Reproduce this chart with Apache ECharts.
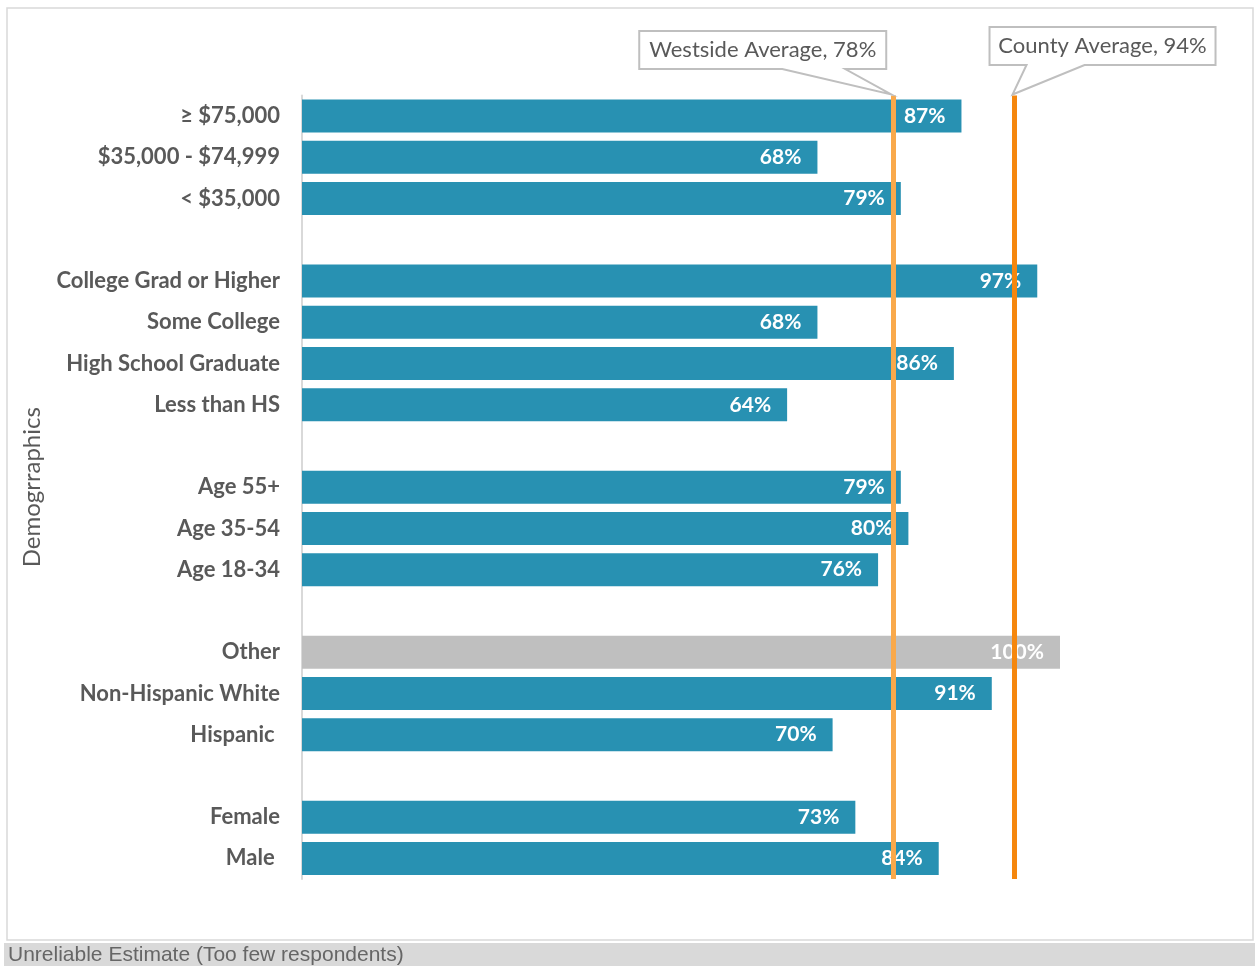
<!DOCTYPE html>
<html>
<head>
<meta charset="utf-8">
<script src="https://cdn.jsdelivr.net/npm/echarts@6/dist/echarts.min.js"></script>
<style>
  html, body { margin: 0; padding: 0; background: #ffffff; }
  #chart { width: 1255px; height: 966px; }
</style>
</head>
<body>
<div id="chart"></div>
<script>
// Categories top to bottom; empty strings are spacer rows between groups
const categories = [
  '≥ $75,000', '$35,000 - $74,999', '< $35,000', '',
  'College Grad or Higher', 'Some College', 'High School Graduate', 'Less than HS', '',
  'Age 55+', 'Age 35-54', 'Age 18-34', '',
  'Other', 'Non-Hispanic White', 'Hispanic ', '',
  'Female', 'Male '
];
// Percent values (null for spacer rows)
const values = [
  87, 68, 79, null,
  97, 68, 86, 64, null,
  79, 80, 76, null,
  100, 91, 70, null,
  73, 84
];
// Rows flagged as unreliable estimates
const unreliable = ['Other'];

const westsideAvg = 78;
const countyAvg = 94;
const axisTitle = 'Demogrraphics';
const footnote = 'Unreliable Estimate (Too few respondents)';

const BAR = '#2891b2';
const GREY_BAR = '#bfbfbf';
const TEXT = '#595959';

const chart = echarts.init(document.getElementById('chart'), null, { renderer: 'canvas' });

const GRID_TOP = 95.5;
const GRID_BOTTOM = 966 - 879;

const seriesData = values.map((v, i) => {
  if (v === null) return '-';
  const item = { value: v };
  if (unreliable.includes(categories[i])) item.itemStyle = { color: GREY_BAR };
  return item;
});

chart.setOption({
  animation: false,
  backgroundColor: '#ffffff',
  grid: { left: 302, right: 195, top: GRID_TOP, bottom: GRID_BOTTOM, containLabel: false },
  xAxis: {
    type: 'value', min: 0, max: 100, show: false
  },
  yAxis: {
    type: 'category',
    data: categories,
    inverse: true,
    axisLine: { show: true, lineStyle: { color: '#d9d9d9', width: 2 } },
    axisTick: { show: false },
    axisLabel: {
      margin: 22, color: TEXT, fontFamily: 'Lato', fontWeight: 'bold', fontSize: 22
    },
    name: axisTitle,
    nameLocation: 'middle',
    nameRotate: 90,
    nameGap: 258,
    nameTextStyle: { color: TEXT, fontFamily: 'Lato', fontSize: 24 }
  },
  series: [{
    type: 'bar',
    data: seriesData,
    barWidth: 33,
    itemStyle: { color: BAR },
    label: {
      show: true,
      position: 'insideRight',
      distance: 16,
      formatter: p => p.value + '%',
      color: '#ffffff',
      fontFamily: 'Lato',
      fontWeight: 'bold',
      fontSize: 21
    },
    markLine: {
      silent: true,
      symbol: 'none',
      label: { show: false },
      data: [
        { xAxis: westsideAvg, lineStyle: { color: '#f9a94b', width: 5, type: 'solid' } },
        { xAxis: countyAvg, lineStyle: { color: '#f5870e', width: 5, type: 'solid' } }
      ],
      z: 5
    }
  }]
});

// Callout boxes pointing at the top of each average line
function callout(x, tipY, text, boxLeft, boxTop, boxW, boxH, baseL, baseR) {
  const pts = [
    [boxLeft, boxTop], [boxLeft + boxW, boxTop], [boxLeft + boxW, boxTop + boxH],
    [baseR, boxTop + boxH], [x - 2, tipY], [baseL, boxTop + boxH], [boxLeft, boxTop + boxH]
  ];
  return [
    {
      type: 'polygon', shape: { points: pts },
      style: { fill: '#ffffff', stroke: '#bfbfbf', lineWidth: 2 }, z: 100
    },
    {
      type: 'text', x: boxLeft + boxW / 2, y: boxTop + boxH / 2,
      style: {
        text: text, fill: TEXT, fontFamily: 'Lato', fontSize: 22,
        align: 'center', verticalAlign: 'middle'
      }, z: 101
    }
  ];
}

const wx = chart.convertToPixel({ gridIndex: 0 }, [westsideAvg, 0])[0];
const cx = chart.convertToPixel({ gridIndex: 0 }, [countyAvg, 0])[0];
const tipY = GRID_TOP - 1;

chart.setOption({
  graphic: [
    {
      type: 'rect', shape: { x: 7, y: 8, width: 1246, height: 932 },
      style: { fill: 'none', stroke: '#d9d9d9', lineWidth: 1.5 }, z: -1, silent: true
    },
    {
      type: 'rect', shape: { x: 4, y: 943, width: 1251, height: 23 },
      style: { fill: '#d9d9d9' }, z: 1, silent: true
    },
    {
      type: 'text', x: 8, y: 955,
      style: {
        text: footnote, fill: '#666666', fontFamily: 'Liberation Sans', fontSize: 21,
        verticalAlign: 'middle'
      }, z: 2
    },
    ...callout(wx, tipY, 'Westside Average, ' + westsideAvg + '%', wx - 254, 31, 247, 38, wx - 111, wx - 48),
    ...callout(cx, tipY, 'County Average, ' + countyAvg + '%', cx - 25, 27, 226, 38, cx + 12, cx + 70)
  ]
});
</script>
</body>
</html>
